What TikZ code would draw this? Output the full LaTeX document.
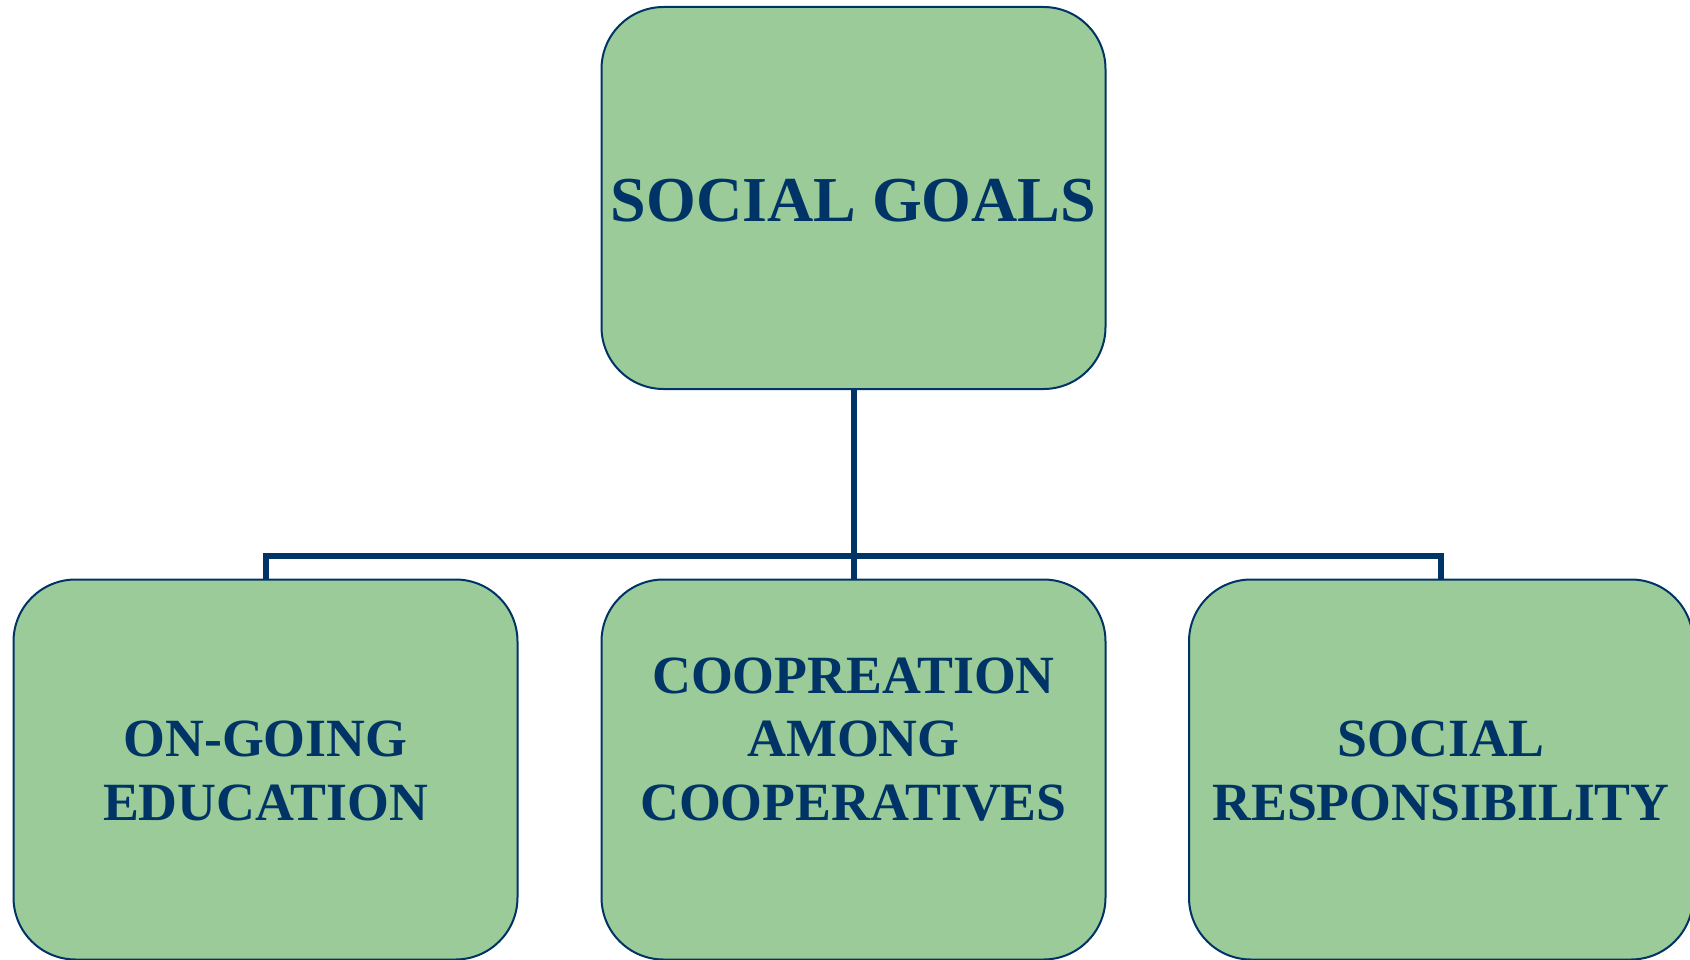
\documentclass[tikz,border=0pt]{standalone}
\usepackage{fontspec}
\setmainfont{Liberation Serif}
\definecolor{boxfill}{HTML}{9ACB98}
\definecolor{navy}{HTML}{003366}
\tikzset{
  goalbox/.style={draw=navy, line width=2pt, fill=boxfill, rounded corners=62pt,
    minimum width=504pt, inner sep=0pt},
  goaltext/.style={text=navy, font=\bfseries\fontsize{53.8}{63.5}\selectfont, align=center, inner sep=0pt, anchor=base},
  conn/.style={draw=navy, line width=6pt, line join=miter}
}
\begin{document}
\begin{tikzpicture}[x=1pt,y=-1pt]
\useasboundingbox (0,0) rectangle (1690,960);
\clip (0,0) rectangle (1690,960);
\node[goalbox, minimum height=382pt] (top) at (853.5,198) {};
\node[goalbox, minimum height=380pt] (left) at (265.5,769.5) {};
\node[goalbox, minimum height=380pt] (mid) at (853.5,769.5) {};
\node[goalbox, minimum height=380pt] (right) at (1441,769.5) {};
\coordinate (bar) at (853.5,555.5);
\draw[conn] (top.south) -- (mid.north);
\draw[conn] (left.north) |- (bar) -| (right.north);
\node[goaltext, font=\bfseries\fontsize{64}{72}\selectfont] (toptext) at (853.5,222) {SOCIAL GOALS};
\node[goaltext] (lefttext) at (265.5,820) {ON-GOING\\EDUCATION};
\node[goaltext] (midtext) at (853.5,820) {COOPREATION\\AMONG\\COOPERATIVES};
\node[goaltext] (righttext) at (1441,820) {SOCIAL\\RESPONSIBILITY};
\end{tikzpicture}
\end{document}
